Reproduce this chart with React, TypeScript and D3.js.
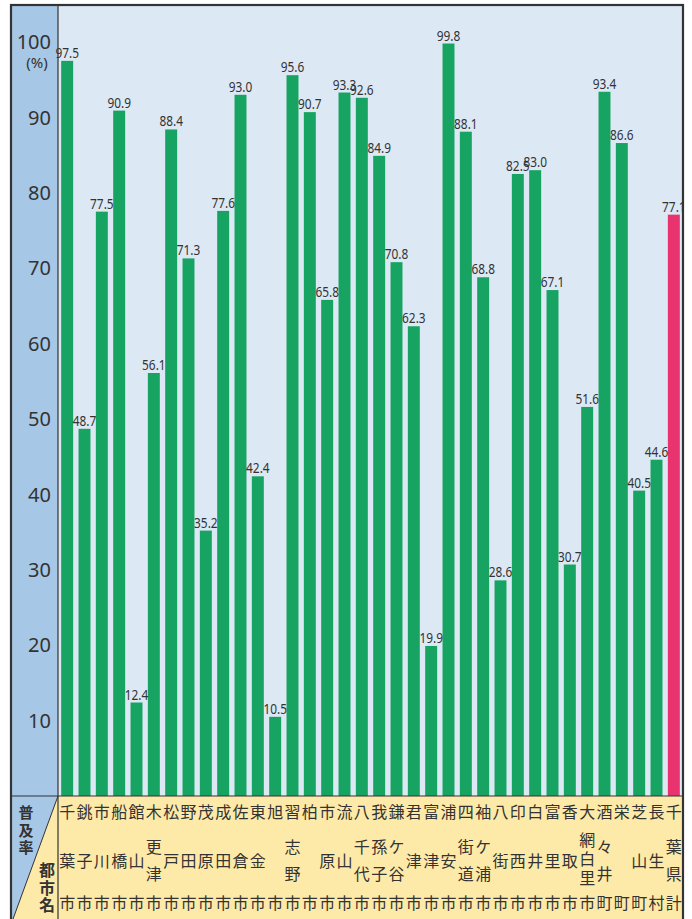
import React from 'react';
import * as d3 from 'd3';

const cities = [
  '千葉市', '銚子市', '市川市', '船橋市', '館山市', '木更津市', '松戸市', '野田市', '茂原市',
  '成田市', '佐倉市', '東金市', '旭市', '習志野市', '柏市', '市原市', '流山市', '八千代市',
  '我孫子市', '鎌ケ谷市', '君津市', '富津市', '浦安市', '四街道市', '袖ケ浦市', '八街市',
  '印西市', '白井市', '富里市', '香取市', '大網白里市', '酒々井町', '栄町', '芝山町', '長生村', '千葉県計',
];
const values = [
  97.5, 48.7, 77.5, 90.9, 12.4, 56.1, 88.4, 71.3, 35.2,
  77.6, 93.0, 42.4, 10.5, 95.6, 90.7, 65.8, 93.3, 92.6,
  84.9, 70.8, 62.3, 19.9, 99.8, 88.1, 68.8, 28.6,
  82.5, 83.0, 67.1, 30.7, 51.6, 93.4, 86.6, 40.5, 44.6, 77.1,
];
const yTicks = [10, 20, 30, 40, 50, 60, 70, 80, 90, 100];
const totalLabel = '千葉県計';

const GREEN = '#17a462';
const PINK = '#e8336e';
const PLOT_BG = '#dde8f5';
const BAND_BLUE = '#a7c7e7';
const YELLOW = '#feeaa8';
const INK = '#333333';

export default function App() {
  const W = 692, H = 919;
  const L = 11, R = 683, T = 5, AX = 58, BASE = 796, B = 919;
  const x = d3.scaleBand<string>().domain(cities).range([58.5, 682.5]).paddingInner(0.31).paddingOuter(0.155);
  const y = d3.scaleLinear().domain([0, 100]).range([BASE, 42]);
  const bw = x.bandwidth();
  const numFont = '"Noto Sans", "DejaVu Sans", sans-serif';
  const cjk = '"Noto Sans CJK JP", "Noto Sans CJK SC", sans-serif';
  const vert: React.CSSProperties = { writingMode: 'vertical-rl' as any };

  // vertical spacing of middle characters depends on how many there are
  const midLayout = (n: number) => {
    if (n === 1) return { cy: 861, gap: 0 };
    if (n === 2) return { cy: 860.5, gap: 11 };
    return { cy: 859, gap: 3 };
  };

  return (
    <svg width={W} height={H} style={{ position: 'absolute', left: 0, top: 0, background: '#fff' }}>
      {/* plot background */}
      <rect x={AX} y={T} width={R - AX} height={BASE - T} fill={PLOT_BG} />
      <rect x={L} y={T} width={AX - L} height={BASE - T} fill={BAND_BLUE} />
      {/* bottom label area */}
      <rect x={L} y={BASE} width={R - L} height={B - BASE} fill={YELLOW} />
      <polygon points={`${L},${BASE} ${AX},${BASE} ${13},${B} ${L},${B}`} fill={BAND_BLUE} />
      <line x1={AX} y1={BASE} x2={13} y2={B} stroke={INK} strokeWidth={1} />

      {/* bars */}
      {cities.map((c, i) => (
        <rect key={c} x={x(c)} y={y(values[i])} width={bw} height={BASE - y(values[i])}
          fill={c === totalLabel ? PINK : GREEN} />
      ))}

      {/* value labels */}
      {cities.map((c, i) => {
        const cx = (x(c) as number) + bw / 2;
        return (
          <text key={'v' + c} transform={`translate(${cx},${y(values[i]) - 3}) scale(0.82,1)`}
            textAnchor="middle" fontFamily={numFont} fontSize={14.5} fill={INK}>
            {values[i].toFixed(1)}
          </text>
        );
      })}

      {/* y tick labels */}
      {yTicks.map((t) => (
        <text key={'t' + t} x={51} y={y(t)} dy="0.36em" textAnchor="end"
          fontFamily={numFont} fontSize={20} fill={INK}>{t}</text>
      ))}
      <text x={37} y={y(100) + 21} dy="0.36em" textAnchor="middle" fontFamily={numFont} fontSize={15} fill={INK}>(%)</text>

      {/* category labels */}
      {cities.map((c) => {
        const cx = (x(c) as number) + bw / 2;
        const chars = Array.from(c);
        const first = chars[0];
        const last = chars[chars.length - 1];
        const mid = chars.slice(1, -1).join('');
        const ml = midLayout(mid.length);
        return (
          <g key={'l' + c} fontFamily={cjk} fontSize={16} fill={INK} textAnchor="middle">
            <text x={cx} y={812} dy="0.36em">{first}</text>
            {mid.length > 0 && (
              <text x={cx} y={ml.cy + ml.gap / 2} style={{ ...vert, letterSpacing: ml.gap }}>{mid}</text>
            )}
            <text x={cx} y={903} dy="0.36em">{last}</text>
          </g>
        );
      })}

      {/* corner labels */}
      <text x={26} y={831.5} textAnchor="middle" fontFamily={cjk} fontWeight="bold" fontSize={15}
        fill={INK} style={{ ...vert, letterSpacing: 2.5 }}>普及率</text>
      <text x={47} y={888.5} textAnchor="middle" fontFamily={cjk} fontWeight="bold" fontSize={16}
        fill={INK} style={{ ...vert, letterSpacing: 1.5 }}>都市名</text>

      {/* frame lines */}
      <line x1={AX} y1={T} x2={AX} y2={B} stroke={INK} strokeWidth={1.2} />
      <line x1={L} y1={BASE} x2={R} y2={BASE} stroke={INK} strokeWidth={1.2} />
      <rect x={L} y={T} width={R - L} height={B + 5 - T} fill="none" stroke={INK} strokeWidth={2.2} />
    </svg>
  );
}
